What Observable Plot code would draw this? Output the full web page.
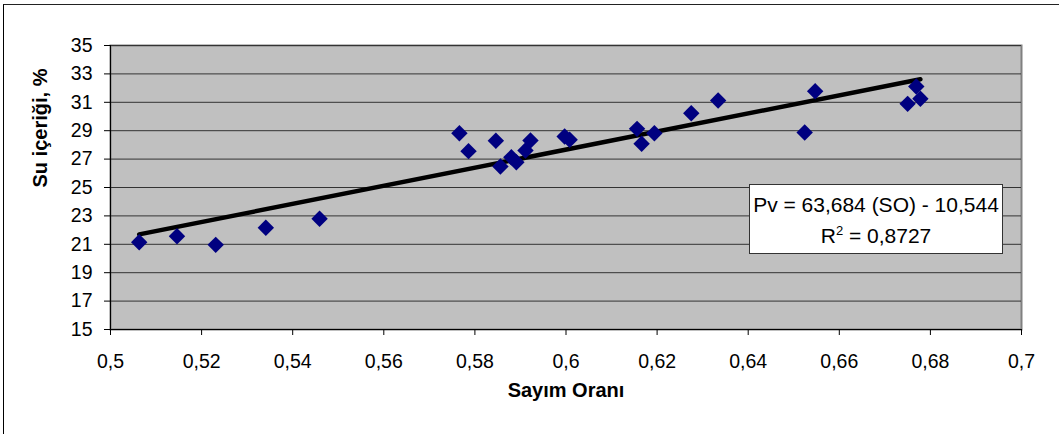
<!DOCTYPE html>
<html>
<head>
<meta charset="utf-8">
<script src="https://cdn.jsdelivr.net/npm/d3@7"></script>
<script src="https://cdn.jsdelivr.net/npm/@observablehq/plot@0.6"></script>
<style>
  html, body { margin: 0; padding: 0; background: #fff; }
  #wrap { position: relative; width: 1059px; height: 434px; overflow: hidden; font-family: "Liberation Sans", Arial, sans-serif; }
  #outer { position: absolute; left: 3px; top: 4px; width: 1060px; height: 440px; border-left: 1px solid #000; border-top: 1px solid #222; box-sizing: border-box; }
  #eq { position: absolute; left: 749px; top: 184px; width: 254px; height: 70px; background: #fff; border: 1px solid #333; box-sizing: border-box; text-align: center; font-size: 21px; line-height: 31px; color: #000; padding-top: 4px; }
  #eq sup { font-size: 13px; vertical-align: 8px; line-height: 0; }
</style>
</head>
<body>
<div id="wrap">
  <div id="outer"></div>
  <div id="chart"></div>
  <div id="eq"></div>
</div>
<script>
// Sayım Oranı (count ratio)
const soX = [0.5063, 0.5146, 0.5231, 0.5341, 0.5459, 0.5766, 0.5786, 0.5846, 0.5856, 0.5880,
             0.5891, 0.5911, 0.5922, 0.5997, 0.6008, 0.6156, 0.6166, 0.6194, 0.6275, 0.6334,
             0.6524, 0.6547, 0.6750, 0.6769, 0.6778];
// Su içeriği, %
const pvY = [21.15, 21.57, 20.96, 22.16, 22.80, 28.82, 27.56, 28.29, 26.48, 27.13,
             26.78, 27.60, 28.31, 28.59, 28.36, 29.13, 28.08, 28.82, 30.23, 31.13,
             28.87, 31.78, 30.89, 32.11, 31.25];
const xTicks = [0.5, 0.52, 0.54, 0.56, 0.58, 0.6, 0.62, 0.64, 0.66, 0.68, 0.7];
const yTicks = [15, 17, 19, 21, 23, 25, 27, 29, 31, 33, 35];
const slope = 63.684;
const intercept = -10.544;
const r2 = 0.8727;
const xLabel = "Sayım Oranı";
const yLabel = "Su içeriği, %";

const pts = soX.map((x, i) => ({x, y: pvY[i]}));
const ext = d3.extent(soX);
const fit = ext.map(x => ({x, y: slope * x + intercept}));
const fmt = d => String(+d.toFixed(4)).replace(".", ",");

const font = '"Liberation Sans", Arial, sans-serif';
const chart = Plot.plot({
  width: 1059,
  height: 434,
  marginLeft: 110,
  marginRight: 38,
  marginTop: 45,
  marginBottom: 105,
  style: {fontFamily: font, background: "transparent", color: "#000", overflow: "visible"},
  x: {domain: [0.5, 0.7]},
  y: {domain: [15, 35]},
  marks: [
    Plot.frame({fill: "#c0c0c0", stroke: "#808080", strokeWidth: 2}),
    Plot.gridY(yTicks, {stroke: "#333", strokeOpacity: 1, strokeWidth: 1}),
    Plot.ruleX([0.5], {stroke: "#000"}),
    Plot.ruleY([15], {stroke: "#000"}),
    Plot.axisX(xTicks, {tickFormat: fmt, tickSize: 6, tickPadding: 19, fontSize: 19.5, label: null}),
    Plot.axisY(yTicks, {tickFormat: fmt, tickSize: 6, tickPadding: 12, fontSize: 19.5, label: null}),
    Plot.line(fit, {x: "x", y: "y", stroke: "#000", strokeWidth: 4.5}),
    Plot.dot(pts, {x: "x", y: "y", symbol: "diamond2", r: 7.4, fill: "#000080", stroke: "none"}),
    Plot.text([xLabel], {frameAnchor: "bottom", dy: 67, fontSize: 20, fontWeight: "bold"}),
    Plot.text([yLabel], {frameAnchor: "left", rotate: -90, dx: -70, fontSize: 20, fontWeight: "bold"})
  ]
});
document.getElementById("chart").appendChild(chart);

const eq = document.getElementById("eq");
eq.innerHTML = "Pv = " + fmt(slope) + " (SO) - " + fmt(-intercept) + "<br>R<sup>2</sup> = " + fmt(r2);
</script>
</body>
</html>
